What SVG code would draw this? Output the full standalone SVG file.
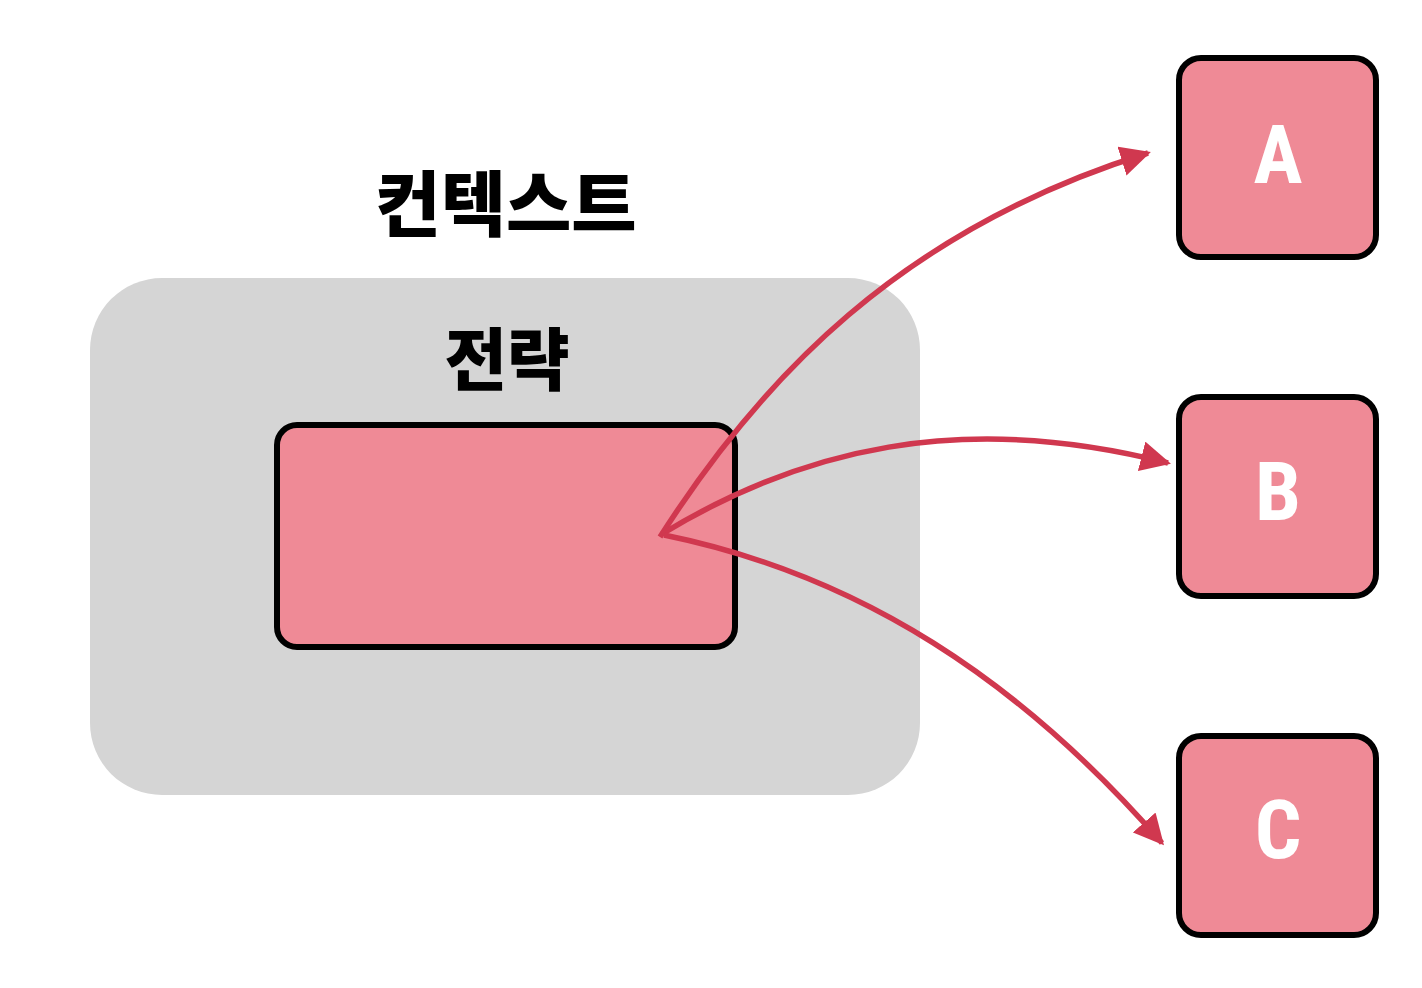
<svg xmlns="http://www.w3.org/2000/svg" width="1422" height="988" viewBox="0 0 1422 988">
  <style>
    .box { fill: #ef8a96; stroke: #000; stroke-width: 6; }
    .title { font-family: "Noto Sans CJK KR", "Noto Sans", sans-serif; font-weight: 900; fill: #000; text-anchor: middle; }
    .letter { font-family: "Roboto", "Liberation Sans", sans-serif; font-weight: 700; font-size: 82px; fill: #fff; text-anchor: middle; font-stretch: condensed; }
    .arrow { fill: none; stroke: #d0384f; stroke-width: 5.5; marker-end: url(#head); }
  </style>
  <defs>
    <marker id="head" viewBox="0 0 10 10" refX="9" refY="5" markerWidth="5.5" markerHeight="5.5" markerUnits="strokeWidth" orient="auto">
      <path d="M0,0 L10,5 L0,10 Z" fill="#d0384f"/>
    </marker>
  </defs>

  <g id="context-label">
    <text class="title" x="506" y="230" font-size="71">컨텍스트</text>
  </g>

  <g id="context">
    <rect x="90" y="278" width="830" height="517" rx="72" fill="#d5d5d5"/>
    <text class="title" x="507" y="385" font-size="68">전략</text>
  </g>

  <g id="strategy">
    <rect class="box" x="277" y="425" width="458" height="222" rx="20"/>
  </g>

  <g id="node-a">
    <rect class="box" x="1179" y="58" width="197" height="199" rx="22"/>
    <text class="letter" x="1278" y="183">A</text>
  </g>
  <g id="node-b">
    <rect class="box" x="1179" y="397" width="197" height="199" rx="22"/>
    <text class="letter" x="1278" y="520">B</text>
  </g>
  <g id="node-c">
    <rect class="box" x="1179" y="736" width="197" height="199" rx="22"/>
    <text class="letter" x="1278" y="858">C</text>
  </g>

  <g id="connectors">
    <path class="arrow" d="M660,537 C760,380 900,230 1148,153"/>
    <path class="arrow" d="M662,534 C800,450 960,410 1168,463"/>
    <path class="arrow" d="M664,535 C860,575 1020,680 1162,843"/>
  </g>
</svg>
